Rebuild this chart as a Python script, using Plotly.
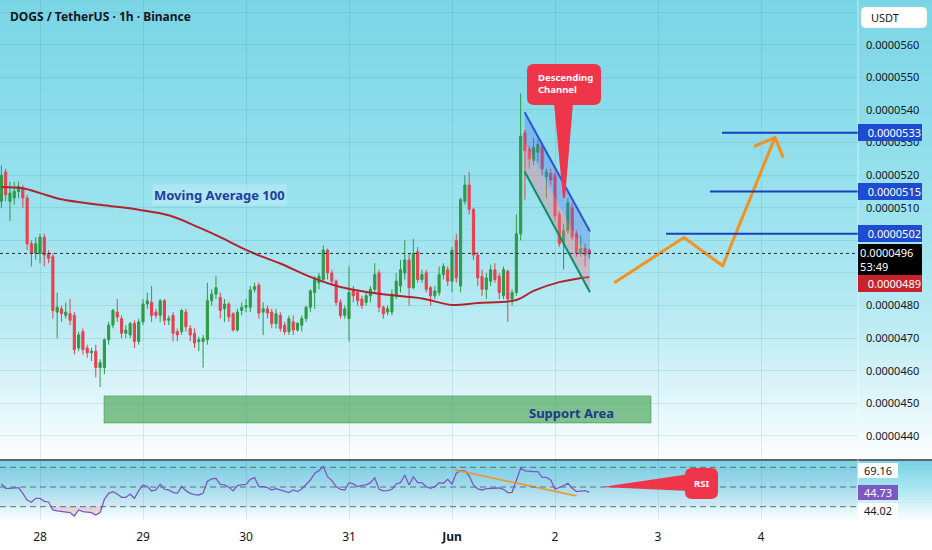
import pandas as pd
import plotly.graph_objects as go

# ---------------- data (prices in units of 1e-7 USDT) ----------------
SCALE = 1e-7
start_time = "2025-05-27 15:00"

open_ = [512, 521, 512, 513, 515, 516, 513, 499, 496, 496,
         501, 496, 495, 478, 479, 477, 477.5, 477, 467, 472,
         467, 465.5, 466, 461, 461, 469.5, 474, 478, 476, 471.5,
         471, 474.5, 469, 475, 480.5, 481, 478, 477, 481.5, 475.5,
         477, 472, 472, 478, 473, 471.5, 469, 469, 469.5, 481.5,
         483.5, 482.5, 479, 480.5, 477.5, 472.5, 478.5, 479.5, 479.5, 485,
         486.3, 478, 479, 478, 474.5, 477, 474, 472, 475, 472.5,
         474, 476, 479.5, 484, 487, 488, 497, 490, 487.5, 481,
         477, 476, 485, 484, 482, 481, 483, 485, 490, 479.5,
         478, 478, 483, 486, 490, 494, 485.5, 496.5, 488, 490,
         485.5, 483, 484, 489.5, 491, 487.5, 500, 486, 512, 517,
         509.5, 495.5, 489, 485, 487.5, 491, 489, 483, 490.5, 482,
         484, 502, 533, 528, 524.5, 527, 529, 519.5, 520.5, 520,
         508, 499.5, 503, 510, 502, 496, 497.5, 497]
high_ = [523, 522, 518, 518, 518, 517, 514, 500, 501, 502,
         502, 497, 496, 484, 480, 481, 482, 478, 472, 473,
         468, 467, 468, 463.5, 470, 475, 479, 482, 477, 474,
         475, 475.5, 476, 482, 484, 486, 479, 482, 482, 477,
         478, 473, 479, 479, 474, 473, 470.5, 471, 487, 485,
         489, 484, 482, 481, 478, 479, 481, 482, 486, 487,
         487, 481, 480, 479, 479, 478, 475, 477, 477, 475,
         477, 480, 485, 489, 490, 498.5, 497.5, 491, 488, 482,
         480, 492, 486, 485, 483, 484, 486, 493, 491, 480,
         480, 485, 490, 494, 500, 496, 500.5, 498, 491, 491,
         486, 486, 492, 493, 492, 498, 502, 513, 520, 521,
         510, 496.5, 491, 490, 492.5, 493, 490, 492, 491, 485,
         508, 545, 534, 529, 531.5, 531, 530, 522, 522, 521,
         509, 505, 513, 511.5, 503, 501.5, 499, 497.5]
low_ = [510, 512, 506, 511, 513, 510, 497, 492, 494, 493,
        492, 493, 476, 470, 475, 476, 474, 465, 466, 465,
        464, 463, 458, 455, 459, 468, 473, 475, 470, 470,
        470, 467, 468, 474, 479, 475, 476, 475, 474, 474,
        469, 469, 471, 472, 469, 467, 466, 461, 468, 480,
        482, 476, 475, 475, 472, 472, 477, 478, 478, 484,
        476, 471, 476, 473, 473, 472, 471, 471, 471, 472,
        472, 475, 478, 479, 485, 487, 488, 486, 480, 476,
        476, 469, 481, 480, 479, 480, 481, 484, 478, 476,
        477, 477, 482, 484, 488, 480, 485, 487, 487, 484,
        480, 482, 483, 488, 486, 484, 487, 484, 511, 508,
        494, 486, 483, 482, 486, 487, 482, 482, 475, 480,
        483, 500, 512.5, 522, 523, 524, 520, 513, 517, 506,
        498, 491, 502, 500, 495, 495, 492, 494.5]
close_ = [520, 514, 514.5, 515, 516.5, 513, 499, 496, 499, 501,
          495.5, 494.5, 478.5, 479.5, 477.5, 478, 475.5, 466.5, 471, 466.5,
          465.5, 466, 461, 462.5, 469.5, 474, 478.5, 476.5, 471.5, 472.5,
          474.5, 469, 475, 480.5, 481.5, 477, 477, 481.5, 475.5, 476,
          471.5, 471, 478.5, 473.5, 471, 468.5, 469.5, 470, 481.5, 483.5,
          485.5, 478.5, 480.5, 476.5, 472.5, 478, 479.5, 480, 484.8, 485.8,
          477.7, 479, 477.7, 474.5, 477.5, 473, 472, 476, 472.5, 474.5,
          476, 479.5, 484.5, 488, 489, 497, 490, 487.5, 481, 477,
          479, 484, 483, 481.5, 480, 483, 485, 489.5, 479.5, 477.5,
          479, 483.5, 487.5, 491, 494, 485.5, 496, 488, 489.5, 485,
          483, 484.5, 489.5, 492, 487.5, 497, 488.5, 512.5, 517, 509.5,
          495.5, 488.5, 485, 488.5, 491, 488, 484, 491, 482, 484,
          502, 532, 527.5, 525, 528.5, 529.5, 522, 521, 518.5, 507.5,
          499, 503, 511.5, 501, 496, 497.5, 495.5, 496]

rsi = [53.1, 48.7, 48.7, 49.4, 49.4, 43.6, 36.8, 34.5, 38.5, 38.5,
       35.5, 34.8, 26.7, 25.7, 25.3, 25.0, 24.0, 20.6, 26.7, 25.0,
       24.3, 24.0, 21.6, 24.0, 37.5, 43.6, 45.3, 42.9, 39.5, 39.5,
       42.9, 38.5, 46.3, 52.1, 50.4, 46.0, 47.0, 52.7, 47.7, 47.0,
       44.6, 43.6, 50.4, 46.3, 43.6, 42.3, 41.9, 43.6, 55.8, 58.2,
       58.8, 52.7, 52.1, 49.7, 46.0, 51.4, 52.1, 52.7, 57.8, 59.5,
       50.4, 50.4, 49.4, 47.0, 48.3, 47.0, 46.0, 44.3, 47.0, 45.3,
       48.0, 52.1, 57.1, 63.9, 66.6, 70.7, 60.5, 56.5, 50.4, 47.7,
       47.0, 54.4, 53.1, 50.4, 51.7, 52.1, 54.4, 59.5, 47.7, 46.0,
       46.3, 47.7, 53.1, 54.4, 62.2, 52.1, 60.5, 54.4, 54.4, 50.4,
       48.7, 50.4, 54.4, 53.8, 57.8, 53.1, 63.9, 66.6, 66.3, 61.2,
       52.1, 48.0, 47.0, 48.3, 48.3, 48.3, 49.0, 47.7, 44.3, 44.6,
       57.1, 69.0, 66.3, 65.6, 65.6, 65.6, 59.8, 59.8, 57.1, 47.7,
       49.4, 51.4, 53.8, 48.7, 45.3, 46.0, 46.3, 44.6]

# moving average 100 (read at sample candles)
ma_index = [0, 5, 9, 14, 23, 32, 39, 46, 51, 56, 60, 65, 72, 79, 88, 98, 105, 111, 120, 124, 130, 137]
ma_values = [516.4, 516.0, 514.5, 512.6, 510.9, 509.4, 507.7, 504.0, 501.0, 497.7, 495.4,
             492.9, 488.8, 485.7, 483.6, 482.2, 480.2, 480.8, 481.7, 484.5, 487.2, 488.8]

price_ticks = [440, 450, 460, 470, 480, 490, 500, 510, 520, 530, 540, 550, 560, 570]
hidden_ticks = [570, 500, 490]  # covered by boxes in the reference
day_ticks = ["2025-05-28", "2025-05-29", "2025-05-30", "2025-05-31",
             "2025-06-01", "2025-06-02", "2025-06-03", "2025-06-04"]
day_labels = ["28", "29", "30", "31", "<b>Jun</b>", "2", "3", "4"]

last_price = 496
ma_last = 489
target_levels = [533, 515, 502]
target_starts = ["2025-06-03 14:55", "2025-06-03 12:07", "2025-06-03 01:52"]

support_low, support_high = 444.0, 452.3
support_start, support_end = "2025-05-28 14:55", "2025-06-02 22:22"

proj_times = ["2025-06-02 13:49", "2025-06-03 06:03", "2025-06-03 15:04", "2025-06-04 03:16"]
proj_prices = [487.0, 500.9, 492.2, 531.6]
head_times = ["2025-06-03 22:22", "2025-06-04 03:16", "2025-06-04 05:12"]
head_prices = [528.8, 531.6, 525.4]

chan_times = ["2025-06-01 16:55", "2025-06-02 08:09"]
chan_upper = [539.3, 502.7]
chan_lower = [521.1, 484.1]

div_times = ["2025-06-01 00:42", "2025-06-02 05:03"]
div_rsi = [67.3, 40.9]

rsi_levels = [70, 50, 30]
rsi_labels = [("69.16", 470.5, "white", "#131722"),
              ("44.73", 492.5, "#7e57c2", "white"),
              ("44.02", 510.0, "white", "#131722")]

# ---------------- layout geometry ----------------
W, H = 932, 550
ML, MR, MT, MB = 0, 74, 0, 30
PW, PH = W - ML - MR, H - MT - MB
FONT = "Noto Sans"


def pxx(x):
    return (x - ML) / PW


def pxy(y):
    return (H - MB - y) / PH


times = pd.date_range(start_time, periods=len(close_), freq="h")
sc = lambda arr: [v * SCALE for v in arr]
day0 = pd.Timestamp("2025-05-28")
x_left = day0 - pd.Timedelta(days=40 / 103)
x_right = day0 + pd.Timedelta(days=818 / 103)
price_range = [432.94, 573.74]
rsi_range = [16.5, 76.4]

fig = go.Figure()

# candles
fig.add_trace(go.Candlestick(
    x=times, open=sc(open_), high=sc(high_), low=sc(low_), close=sc(close_),
    increasing=dict(line=dict(color="#2f9a45", width=1), fillcolor="#2f9a45"),
    decreasing=dict(line=dict(color="#e8404f", width=1), fillcolor="#e8404f"),
    whiskerwidth=0, showlegend=False, xaxis="x", yaxis="y"))

# MA 100
fig.add_trace(go.Scatter(
    x=[times[i] for i in ma_index], y=sc(ma_values), mode="lines",
    line=dict(color="#b0242f", width=2, shape="spline", smoothing=1.0),
    showlegend=False, xaxis="x", yaxis="y"))

# descending channel fills
mid = [(u + l) / 2 for u, l in zip(chan_upper, chan_lower)]
fig.add_trace(go.Scatter(
    x=[chan_times[0], chan_times[1], chan_times[1], chan_times[0]],
    y=sc([chan_upper[0], chan_upper[1], mid[1], mid[0]]),
    fill="toself", fillcolor="rgba(80,110,235,0.33)", line=dict(width=0),
    mode="lines", showlegend=False, xaxis="x", yaxis="y"))
fig.add_trace(go.Scatter(
    x=[chan_times[0], chan_times[1], chan_times[1], chan_times[0]],
    y=sc([mid[0], mid[1], chan_lower[1], chan_lower[0]]),
    fill="toself", fillcolor="rgba(240,120,140,0.38)", line=dict(width=0),
    mode="lines", showlegend=False, xaxis="x", yaxis="y"))
fig.add_trace(go.Scatter(x=chan_times, y=sc(chan_upper), mode="lines",
                         line=dict(color="#2b55d8", width=2), showlegend=False, xaxis="x", yaxis="y"))
fig.add_trace(go.Scatter(x=chan_times, y=sc(chan_lower), mode="lines",
                         line=dict(color="#0f8c63", width=2), showlegend=False, xaxis="x", yaxis="y"))

# projection arrow
fig.add_trace(go.Scatter(x=proj_times, y=sc(proj_prices), mode="lines",
                         line=dict(color="#f5911e", width=3), showlegend=False, xaxis="x", yaxis="y"))
fig.add_trace(go.Scatter(x=head_times, y=sc(head_prices), mode="lines",
                         line=dict(color="#f5911e", width=3), showlegend=False, xaxis="x", yaxis="y"))

# RSI pane
fig.add_trace(go.Scatter(x=times, y=[30] * len(rsi), mode="lines", line=dict(width=0),
                         showlegend=False, xaxis="x2", yaxis="y2", hoverinfo="skip"))
fig.add_trace(go.Scatter(x=times, y=[min(v, 30) for v in rsi], mode="lines", line=dict(width=0),
                         fill="tonexty", fillcolor="rgba(242,54,69,0.18)",
                         showlegend=False, xaxis="x2", yaxis="y2", hoverinfo="skip"))
fig.add_trace(go.Scatter(x=times, y=[70] * len(rsi), mode="lines", line=dict(width=0),
                         showlegend=False, xaxis="x2", yaxis="y2", hoverinfo="skip"))
fig.add_trace(go.Scatter(x=times, y=[max(v, 70) for v in rsi], mode="lines", line=dict(width=0),
                         fill="tonexty", fillcolor="rgba(8,153,129,0.25)",
                         showlegend=False, xaxis="x2", yaxis="y2", hoverinfo="skip"))
fig.add_trace(go.Scatter(x=times, y=rsi, mode="lines", line=dict(color="#7e57c2", width=1.3),
                         showlegend=False, xaxis="x2", yaxis="y2"))
fig.add_trace(go.Scatter(x=div_times, y=div_rsi, mode="lines", line=dict(color="#f5911e", width=1.6),
                         showlegend=False, xaxis="x2", yaxis="y2"))

shapes = []


def lerp(stops, y):
    for (y0, c0), (y1, c1) in zip(stops[:-1], stops[1:]):
        if y <= y1:
            t = max(0.0, min(1.0, (y - y0) / (y1 - y0)))
            return "rgb(%d,%d,%d)" % tuple(round(a + (b - a) * t) for a, b in zip(c0, c1))
    return "rgb(%d,%d,%d)" % stops[-1][1]


main_stops = [(0, (122, 213, 229)), (120, (140, 221, 235)), (240, (160, 228, 239)),
              (330, (190, 236, 244)), (400, (224, 246, 250)), (459, (253, 254, 255))]
rsi_stops = [(461, (120, 210, 227)), (490, (172, 231, 241)), (521, (255, 255, 255))]
for y in range(0, 459, 3):
    shapes.append(dict(type="rect", xref="paper", yref="paper", x0=0, x1=W / PW,
                       y0=pxy(min(y + 3, 459)), y1=pxy(y), fillcolor=lerp(main_stops, y + 1.5),
                       line=dict(width=0), layer="below"))
for y in range(461, 521, 3):
    shapes.append(dict(type="rect", xref="paper", yref="paper", x0=0, x1=W / PW,
                       y0=pxy(min(y + 3, 521)), y1=pxy(y), fillcolor=lerp(rsi_stops, y + 1.5),
                       line=dict(width=0), layer="below"))

# RSI band & levels
shapes.append(dict(type="rect", xref="paper", yref="y2", x0=0, x1=1, y0=30, y1=70,
                   fillcolor="rgba(126,87,194,0.06)", line=dict(width=0), layer="below"))
for lv in rsi_levels:
    shapes.append(dict(type="line", xref="paper", yref="y2", x0=0, x1=1, y0=lv, y1=lv,
                       line=dict(color="#5d6f78", width=1, dash="6px,4px")))

# support area
shapes.append(dict(type="rect", xref="x", yref="y", x0=support_start, x1=support_end,
                   y0=support_low * SCALE, y1=support_high * SCALE,
                   fillcolor="rgba(60,160,72,0.62)", line=dict(color="rgba(50,130,60,0.6)", width=0.8)))

# target levels
for lv, st in zip(target_levels, target_starts):
    shapes.append(dict(type="line", xref="x", yref="y", x0=st, x1=x_right, y0=lv * SCALE, y1=lv * SCALE,
                       line=dict(color="#1b3fc2", width=2)))

# current price dotted line
shapes.append(dict(type="line", xref="paper", yref="y", x0=0, x1=1, y0=last_price * SCALE,
                   y1=last_price * SCALE, line=dict(color="#2a2e39", width=1, dash="dot")))

# pane separators
shapes.append(dict(type="line", xref="paper", yref="paper", x0=0, x1=W / PW, y0=pxy(460), y1=pxy(460),
                   line=dict(color="#2a2e39", width=1.5)))
shapes.append(dict(type="line", xref="paper", yref="paper", x0=1, x1=1, y0=pxy(520), y1=1,
                   line=dict(color="rgba(255,255,255,0.55)", width=1)))


def path(points, close=True):
    s = "M %.5f,%.5f " % (pxx(points[0][0]), pxy(points[0][1]))
    for p in points[1:]:
        if len(p) == 4:
            s += "Q %.5f,%.5f %.5f,%.5f " % (pxx(p[0]), pxy(p[1]), pxx(p[2]), pxy(p[3]))
        else:
            s += "L %.5f,%.5f " % (pxx(p[0]), pxy(p[1]))
    return s + ("Z" if close else "")


def rrect(x0, y0, x1, y1, r):
    return [(x0 + r, y0), (x1 - r, y0), (x1, y0, x1, y0 + r), (x1, y1 - r), (x1, y1, x1 - r, y1),
            (x0 + r, y1), (x0, y1, x0, y1 - r), (x0, y0 + r), (x0, y0, x0 + r, y0)]


RED = "#ef3549"
shapes.append(dict(type="path", xref="paper", yref="paper", path=path(rrect(527, 64, 601, 105, 7)),
                   fillcolor=RED, line=dict(width=0)))
shapes.append(dict(type="path", xref="paper", yref="paper",
                   path=path([(554, 103), (573, 103), (565, 198), (563, 198)]),
                   fillcolor=RED, line=dict(width=0)))
shapes.append(dict(type="path", xref="paper", yref="paper", path=path(rrect(685, 468, 718, 499, 7)),
                   fillcolor=RED, line=dict(width=0)))
shapes.append(dict(type="path", xref="paper", yref="paper",
                   path=path([(602, 487), (690, 474), (690, 491)]),
                   fillcolor=RED, line=dict(width=0)))
# USDT box
shapes.append(dict(type="path", xref="paper", yref="paper", path=path(rrect(861, 7, 927, 28, 5)),
                   fillcolor="white", line=dict(color="rgba(200,210,215,0.8)", width=0.5)))

ann = []
ann.append(dict(xref="paper", yref="paper", x=pxx(8), y=pxy(16), xanchor="left", yanchor="middle",
                text="<b>DOGS / TetherUS · 1h · Binance</b>", showarrow=False,
                font=dict(family=FONT, size=12, color="#131722")))
ann.append(dict(xref="paper", yref="paper", x=pxx(152), y=pxy(195), xanchor="left", yanchor="middle",
                text="<b>Moving Average 100</b>", showarrow=False, bgcolor="rgba(215,240,250,0.35)",
                borderpad=1, font=dict(family=FONT, size=13, color="#1f3f9e")))
ann.append(dict(xref="paper", yref="paper", x=pxx(527), y=pxy(413), xanchor="left", yanchor="middle",
                text="<b>Support Area</b>", showarrow=False,
                font=dict(family=FONT, size=13, color="#1e3a8a")))
ann.append(dict(xref="paper", yref="paper", x=pxx(536), y=pxy(84), xanchor="left", yanchor="middle",
                text="<b>Descending<br>Channel</b>", showarrow=False, align="left",
                font=dict(family=FONT, size=9.5, color="white")))
ann.append(dict(xref="paper", yref="paper", x=pxx(701.5), y=pxy(483.5), xanchor="center", yanchor="middle",
                text="<b>RSI</b>", showarrow=False, font=dict(family=FONT, size=9.5, color="white")))
ann.append(dict(xref="paper", yref="paper", x=pxx(869), y=pxy(17.5), xanchor="left", yanchor="middle",
                text="USDT", showarrow=False, font=dict(family=FONT, size=11, color="#131722")))

AX = dict(family=FONT, size=11)
for lv in target_levels:
    ann.append(dict(xref="paper", yref="y", x=1, y=lv * SCALE, xanchor="left", yanchor="middle",
                    text="%.7f" % (lv * SCALE), showarrow=False, bgcolor="#1f4bd1", borderpad=1,
                    borderwidth=0, width=62, align="right", font=dict(color="white", **AX)))
ann.append(dict(xref="paper", yref="y", x=1, y=last_price * SCALE, xanchor="left", yanchor="top", yshift=9.5,
                text="&#8202;%.7f<br>&#8202;53:49" % (last_price * SCALE), showarrow=False, bgcolor="#000000",
                borderpad=1, borderwidth=0, width=62, align="left", xshift=0,
                font=dict(color="white", **AX)))
ann.append(dict(xref="paper", yref="y", x=1, y=ma_last * SCALE, xanchor="left", yanchor="middle", yshift=-7,
                text="%.7f" % (ma_last * SCALE), showarrow=False, bgcolor="#c8232d", borderpad=1,
                borderwidth=0, width=62, align="right", font=dict(color="white", **AX)))
for txt, ypx, bg, fg in rsi_labels:
    ann.append(dict(xref="paper", yref="paper", x=1, y=pxy(ypx), xanchor="left", yanchor="middle",
                    text=txt, showarrow=False, bgcolor=bg, borderpad=0, borderwidth=0, width=40,
                    align="center", font=dict(color=fg, **AX)))

GRID = "rgba(40,110,130,0.13)"
fig.update_layout(
    width=W, height=H, margin=dict(l=ML, r=MR, t=MT, b=MB), autosize=False,
    paper_bgcolor="white", plot_bgcolor="rgba(0,0,0,0)", showlegend=False,
    boxgap=0.3,
    xaxis=dict(domain=[0, 1], range=[x_left, x_right], type="date", anchor="y",
               tickvals=day_ticks, ticktext=day_labels, showticklabels=False,
               showgrid=True, gridcolor=GRID, zeroline=False, rangeslider=dict(visible=False)),
    xaxis2=dict(domain=[0, 1], range=[x_left, x_right], type="date", anchor="y2", matches="x",
                tickvals=day_ticks, ticktext=day_labels, showticklabels=True, ticks="",
                ticklabelstandoff=8, tickfont=dict(family=FONT, size=12, color="#131722"),
                showgrid=True, gridcolor=GRID, zeroline=False),
    yaxis=dict(domain=[pxy(459), 1], range=[v * SCALE for v in price_range], side="right",
               tickvals=sc(price_ticks),
               ticktext=["" if v in hidden_ticks else "%.7f" % (v * SCALE) for v in price_ticks],
               ticks="", ticklabelstandoff=7, tickfont=dict(family=FONT, size=11, color="#131722"),
               showgrid=True, gridcolor=GRID, zeroline=False, anchor="x", fixedrange=True),
    yaxis2=dict(domain=[0, pxy(461)], range=rsi_range, side="right", showticklabels=False,
                showgrid=False, zeroline=False, anchor="x2"),
    shapes=shapes, annotations=ann,
)

fig.write_html("out.html", config={"displayModeBar": False},
               post_script="document.body.style.margin='0';document.body.style.overflow='hidden';")
